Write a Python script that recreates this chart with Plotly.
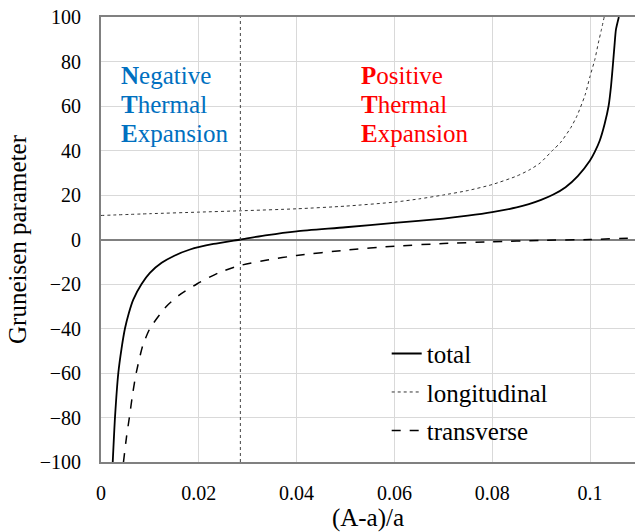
import plotly.graph_objects as go

# ---- data ----
total_x = [0.0024, 0.00286, 0.00354, 0.0042, 0.0049, 0.0057, 0.0066, 0.0083, 0.0100, 0.0124,
           0.0150, 0.0182, 0.0230, 0.0285, 0.0340, 0.0400, 0.0500, 0.0600, 0.0700, 0.0750,
           0.0800, 0.0850, 0.0875, 0.0900, 0.0925, 0.0950, 0.0975, 0.1000, 0.1010, 0.1020,
           0.1030, 0.1038, 0.1043, 0.1047, 0.1050, 0.1053, 0.1059]
total_y = [-100, -80, -60, -49, -40, -33, -27, -20, -15, -10.5,
           -7.3, -4.5, -2.0, 0, 2.0, 3.7, 5.5, 7.5, 9.4, 10.7,
           12.3, 14.4, 15.9, 17.8, 20.2, 23.5, 28.5, 35.5, 39.5, 44.5,
           52.0, 60.0, 69.0, 79.0, 87.0, 94.3, 100]

long_x = [0.0, 0.01, 0.02, 0.0285, 0.04, 0.05, 0.06, 0.0652, 0.07, 0.075,
          0.08, 0.0850, 0.0877, 0.0898, 0.0925, 0.0939, 0.0960, 0.0973, 0.0990, 0.1000,
          0.1010, 0.1017, 0.1023, 0.1029]
long_y = [10.8, 11.6, 12.3, 12.9, 13.8, 15.0, 16.8, 18.3, 20.0, 22.0,
          24.7, 28.5, 31.4, 34.4, 40.4, 43.4, 50.0, 55.4, 65.0, 73.3,
          81.0, 88.3, 94.0, 100]

trans_x = [0.0046, 0.0052, 0.0058, 0.0065, 0.0072, 0.0085, 0.0100, 0.0134, 0.0160, 0.0196,
           0.0240, 0.0284, 0.0340, 0.0400, 0.0500, 0.0600, 0.0700, 0.0800, 0.0900, 0.1000,
           0.1092]
trans_y = [-100, -89, -80, -69, -60, -48, -40, -30, -25, -20,
           -15, -11.7, -9.2, -7.2, -4.8, -3.0, -1.8, -1.0, -0.4, 0.0,
           0.7]

boundary_x = 0.0285  # boundary between negative and positive thermal expansion

x_ticks = [0, 0.02, 0.04, 0.06, 0.08, 0.1]
x_ticktext = ["0", "0.02", "0.04", "0.06", "0.08", "0.1"]
y_ticks = [-100, -80, -60, -40, -20, 0, 20, 40, 60, 80, 100]

FONT = "Liberation Serif"

fig = go.Figure()
fig.add_trace(go.Scatter(x=total_x, y=total_y, mode="lines", name="total", legendgroup="a",
                         line=dict(color="black", width=1.8, shape="spline", smoothing=0.6)))
fig.add_trace(go.Scatter(x=long_x, y=long_y, mode="lines", name="longitudinal", legendgroup="b",
                         line=dict(color="#333333", width=1, dash="dot", shape="spline", smoothing=0.6)))
fig.add_trace(go.Scatter(x=trans_x, y=trans_y, mode="lines", name="transverse", legendgroup="c",
                         line=dict(color="black", width=1.5, dash="dash", shape="spline", smoothing=0.6)))

# vertical boundary line
fig.add_shape(type="line", x0=boundary_x, x1=boundary_x, y0=-100, y1=100,
              xref="x", yref="y", line=dict(color="#444444", width=1, dash="dot"))

def add_label(x, y, first, rest, color):
    fig.add_annotation(x=x, y=y, xref="x", yref="y", xanchor="left", yanchor="middle",
                       text=f"<b>{first}</b>{rest}", showarrow=False,
                       font=dict(family=FONT, size=25, color=color))

blue = "#0070C0"
red = "#FF0000"
add_label(0.00374, 73.9, "N", "egative", blue)
add_label(0.00374, 60.6, "T", "hermal", blue)
add_label(0.00374, 47.6, "E", "xpansion", blue)
add_label(0.0528, 73.9, "P", "ositive", red)
add_label(0.0528, 60.6, "T", "hermal", red)
add_label(0.0528, 47.6, "E", "xpansion", red)

fig.update_layout(
    width=635, height=532,
    margin=dict(l=101, r=0, t=17, b=70),
    plot_bgcolor="white", paper_bgcolor="white",
    font=dict(family=FONT, size=20, color="black"),
    showlegend=True,
    legend=dict(x=0.535, y=0.295, xanchor="left", yanchor="top",
                bgcolor="rgba(0,0,0,0)", font=dict(family=FONT, size=25),
                itemwidth=30, traceorder="grouped", tracegroupgap=3),
    xaxis=dict(range=[0, 0.1092], tickvals=x_ticks, ticktext=x_ticktext,
               showgrid=True, gridcolor="#d9d9d9", gridwidth=1,
               showline=True, linecolor="#808080", linewidth=2, mirror=True,
               zeroline=False, ticks="outside", ticklen=12, tickcolor="rgba(0,0,0,0)",
               tickfont=dict(family=FONT, size=20),
               title=dict(text="(A-a)/a", font=dict(family=FONT, size=25), standoff=6)),
    yaxis=dict(range=[-100, 100], tickvals=y_ticks,
               showgrid=True, gridcolor="#d9d9d9", gridwidth=1,
               showline=True, linecolor="#808080", linewidth=2,
               zeroline=True, zerolinecolor="#808080", zerolinewidth=1.5,
               ticks="outside", ticklen=14, tickcolor="rgba(0,0,0,0)",
               tickfont=dict(family=FONT, size=20),
               title=dict(text="Gruneisen parameter", font=dict(family=FONT, size=25), standoff=6)),
)

fig.write_html("out.html")
